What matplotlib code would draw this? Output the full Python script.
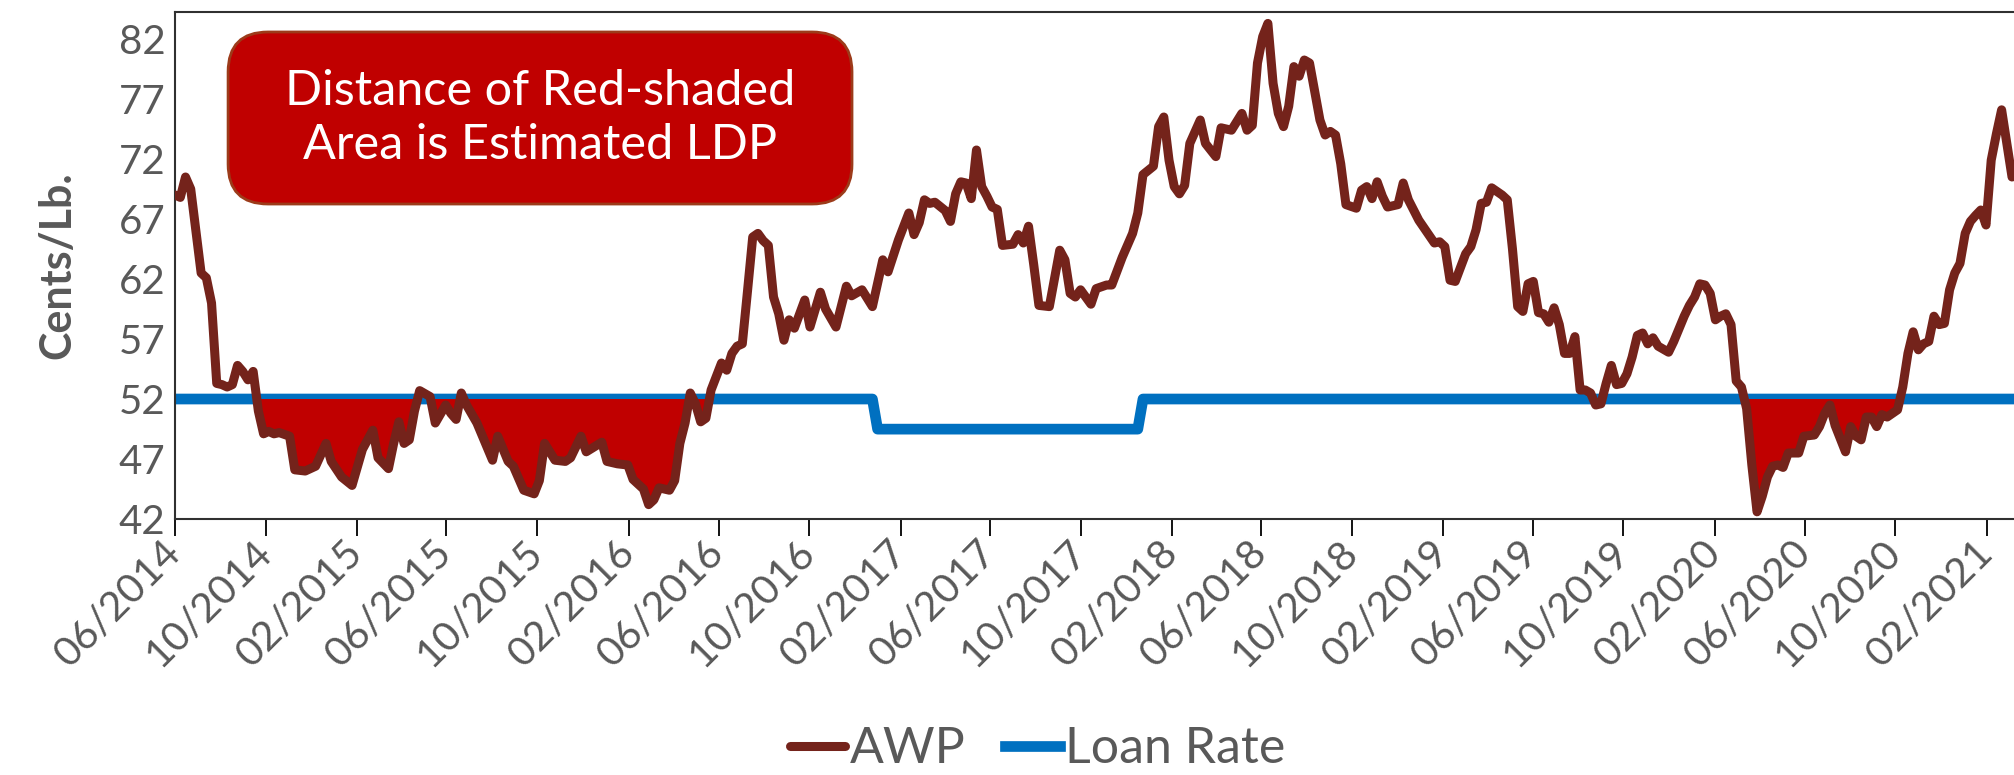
import numpy as np
import pandas as pd
import matplotlib
matplotlib.use('Agg')
import matplotlib.pyplot as plt
from matplotlib.patches import FancyBboxPatch
import matplotlib.dates as mdates

plt.rcParams['font.family'] = ['Lato', 'DejaVu Sans']

# weekly Adjusted World Price, weeks counted from 06/2014
start = pd.Timestamp('2014-06-01')
awp_weeks = [0, 1, 2, 3, 5, 6, 7, 8, 9, 10, 11, 12, 13, 14, 15, 16, 17, 18, 19, 20,
             22, 23, 25, 27, 29, 30, 32, 34, 36, 38, 39, 41, 42, 43, 44, 45, 46, 47, 49, 50,
             52, 53, 54, 55, 56, 58, 61, 62, 64, 65, 67, 69, 70, 71, 73, 75, 76, 78, 79, 82,
             83, 85, 87, 88, 89, 90, 91, 92, 93, 95, 96, 97, 98, 99, 100, 101, 102, 103, 105, 106,
             107, 108, 109, 110, 111, 112, 113, 114, 115, 116, 117, 118, 119, 121, 122, 124, 125, 127, 129, 130,
             132, 134, 136, 137, 139, 141, 142, 143, 144, 145, 146, 148, 149, 150, 151, 152, 153, 154, 155, 156,
             157, 158, 159, 161, 162, 163, 164, 165, 166, 168, 170, 171, 172, 173, 174, 176, 177, 179, 180, 182,
             184, 185, 186, 188, 189, 190, 191, 192, 193, 194, 195, 197, 198, 200, 201, 203, 204, 205, 206, 207,
             208, 209, 210, 211, 212, 213, 214, 215, 216, 217, 218, 220, 221, 222, 223, 224, 225, 227, 228, 229,
             230, 231, 232, 233, 235, 236, 237, 239, 242, 243, 244, 245, 246, 248, 249, 250, 251, 252, 253, 255,
             256, 257, 258, 259, 260, 261, 262, 263, 264, 265, 266, 267, 268, 269, 270, 271, 272, 273, 274, 275,
             276, 277, 278, 279, 280, 281, 282, 283, 284, 285, 287, 288, 290, 291, 292, 293, 294, 295, 296, 297,
             298, 299, 300, 301, 302, 303, 304, 305, 306, 307, 308, 309, 310, 312, 313, 315, 316, 317, 318, 319,
             321, 322, 323, 324, 325, 326, 327, 328, 329, 331, 332, 333, 334, 335, 336, 337, 338, 339, 340, 341,
             342, 343, 344, 345, 346, 347, 348, 349, 350, 351, 352, 353]
awp = [69.0, 68.8, 70.5, 69.5, 62.5, 62.1, 60.0, 53.3, 53.2, 53.0, 53.2, 54.8, 54.3, 53.6, 54.3, 51.0, 49.1, 49.3, 49.1, 49.2,
       48.9, 46.1, 46.0, 46.4, 48.3, 46.8, 45.5, 44.8, 47.8, 49.4, 47.1, 46.2, 48.3, 50.1, 48.3, 48.6, 51.0, 52.7, 52.2, 50.0,
       51.5, 50.8, 50.3, 52.5, 51.5, 50.0, 46.9, 48.9, 46.8, 46.4, 44.4, 44.1, 45.2, 48.3, 46.9, 46.8, 47.1, 48.9, 47.6, 48.4,
       46.8, 46.6, 46.5, 45.3, 44.9, 44.5, 43.2, 43.6, 44.6, 44.4, 45.2, 48.3, 50.0, 52.5, 51.6, 50.1, 50.4, 52.75, 55.0, 54.4,
       55.8, 56.4, 56.6, 61.0, 65.5, 65.8, 65.2, 64.8, 60.5, 59.1, 56.9, 58.6, 57.9, 60.25, 58.0, 60.9, 59.5, 58.0, 61.4, 60.6,
       61.1, 59.7, 63.6, 62.6, 65.25, 67.5, 65.7, 66.7, 68.6, 68.3, 68.4, 67.7, 66.8, 69.1, 70.1, 70.0, 68.7, 72.75, 69.7, 68.9,
       68.0, 67.8, 64.8, 64.9, 65.7, 65.0, 66.4, 63.2, 59.8, 59.7, 64.4, 63.6, 60.8, 60.5, 61.1, 59.9, 61.2, 61.5, 61.5, 63.8,
       65.8, 67.5, 70.7, 71.4, 74.7, 75.5, 71.9, 69.7, 69.1, 69.8, 73.3, 75.25, 73.3, 72.2, 74.6, 74.4, 75.1, 75.8, 74.4, 74.8,
       80.0, 82.2, 83.3, 78.3, 75.8, 74.7, 76.4, 79.7, 78.9, 80.25, 80.0, 75.25, 74.0, 74.3, 74.0, 71.6, 68.2, 67.9, 69.4, 69.7,
       68.7, 70.1, 68.9, 68.0, 68.2, 70.0, 68.6, 66.9, 65.0, 65.1, 64.7, 61.9, 61.8, 64.1, 64.7, 66.1, 68.3, 68.4, 69.6, 69.0,
       68.6, 64.5, 59.7, 59.3, 61.6, 61.8, 59.2, 59.1, 58.4, 59.6, 58.2, 55.8, 55.8, 57.2, 52.75, 52.75, 52.5, 51.5, 51.6, 53.3,
       54.8, 53.2, 53.3, 54.1, 55.5, 57.3, 57.5, 56.6, 57.1, 56.4, 55.9, 56.8, 58.9, 59.8, 60.5, 61.6, 61.5, 60.8, 58.6, 58.9,
       59.1, 58.2, 53.5, 53.0, 51.2, 46.5, 42.6, 43.9, 45.5, 46.4, 46.5, 46.3, 47.5, 47.5, 48.9, 49.0, 49.7, 50.8, 51.5, 49.8,
       47.6, 49.7, 48.9, 48.6, 50.5, 50.5, 49.7, 50.7, 50.5, 51.1, 53.0, 55.8, 57.6, 56.1, 56.6, 56.8, 58.9, 58.2, 58.3, 61.1,
       62.5, 63.3, 65.8, 66.8, 67.3, 67.75, 66.5, 71.9, 74.1, 76.1, 73.3, 70.5]

loan_high = 52.0
loan_low = 49.49
low_first_week, low_last_week = 135, 185
last_week = 353

yticks = [42, 47, 52, 57, 62, 67, 72, 77, 82]
box_text = 'Distance of Red-shaded\nArea is Estimated LDP'

gray = '#595959'
awp_col = '#74231B'
loan_col = '#0070C0'
red = '#C00000'

awp_weeks = np.array(awp_weeks)
awp = np.array(awp)
awp_dates = start + pd.to_timedelta(awp_weeks * 7, unit='D')

all_weeks = np.arange(0, last_week + 1)
loan = np.where((all_weeks >= low_first_week) & (all_weeks <= low_last_week), loan_low, loan_high)
loan_dates = start + pd.to_timedelta(all_weeks * 7, unit='D')
loan_at_awp = np.where((awp_weeks >= low_first_week) & (awp_weeks <= low_last_week), loan_low, loan_high)

fig = plt.figure(figsize=(20.15, 7.75), dpi=100)
ax = fig.add_axes([0.0869, 0.3303, 0.9131, 0.6542])

ax.plot(loan_dates, loan, color=loan_col, lw=7.7, solid_joinstyle='round', zorder=2, label='Loan Rate')
ax.fill_between(awp_dates, awp, loan_at_awp, where=awp < loan_at_awp, interpolate=True,
                color=red, lw=0, zorder=3)
ax.plot(awp_dates, awp, color=awp_col, lw=6.5, solid_joinstyle='round', solid_capstyle='round',
        zorder=4, label='AWP')

ax.set_ylim(42, 84.25)
ax.set_xlim(start, start + pd.Timedelta(days=last_week * 7 + 4))
ax.set_yticks(yticks)
ax.set_xticks(pd.date_range('2014-06-01', '2021-02-01', freq='4MS'))
ax.xaxis.set_major_formatter(mdates.DateFormatter('%m/%Y'))

ax.tick_params(axis='y', length=0, pad=7, labelsize=29, labelcolor=gray)
ax.tick_params(axis='x', length=12, width=1.3, direction='out', pad=8, labelsize=29.5, labelcolor=gray)
for lab in ax.get_xticklabels():
    lab.set_rotation(45)
    lab.set_ha('right')
    lab.set_va('center')
    lab.set_rotation_mode('anchor')

for side in ['left', 'top', 'bottom']:
    ax.spines[side].set_color('#303030')
    ax.spines[side].set_linewidth(1.5)
ax.spines['right'].set_visible(False)

ax.set_ylabel('Cents/Lb.', fontsize=31, fontweight='bold', color=gray, labelpad=30)

box = FancyBboxPatch((0.0288, 0.6213), 0.3391, 0.3393, transform=ax.transAxes,
                     boxstyle='round,pad=0,rounding_size=0.0217', mutation_aspect=3.63,
                     facecolor=red, edgecolor='#9C3B1A', lw=2, zorder=6)
ax.add_patch(box)
ax.text(0.1984, 0.791, box_text, transform=ax.transAxes, ha='center', va='center',
        fontsize=35, color='white', linespacing=1.3, zorder=7)

h, l = ax.get_legend_handles_labels()
fig.legend([h[1], h[0]], [l[1], l[0]], loc='center', bbox_to_anchor=(0.515, 0.033), ncol=2,
           frameon=False, fontsize=36, handlelength=1.1, handletextpad=0.1, columnspacing=0.8,
           labelcolor=gray)

fig.savefig('out.png', dpi=100)
